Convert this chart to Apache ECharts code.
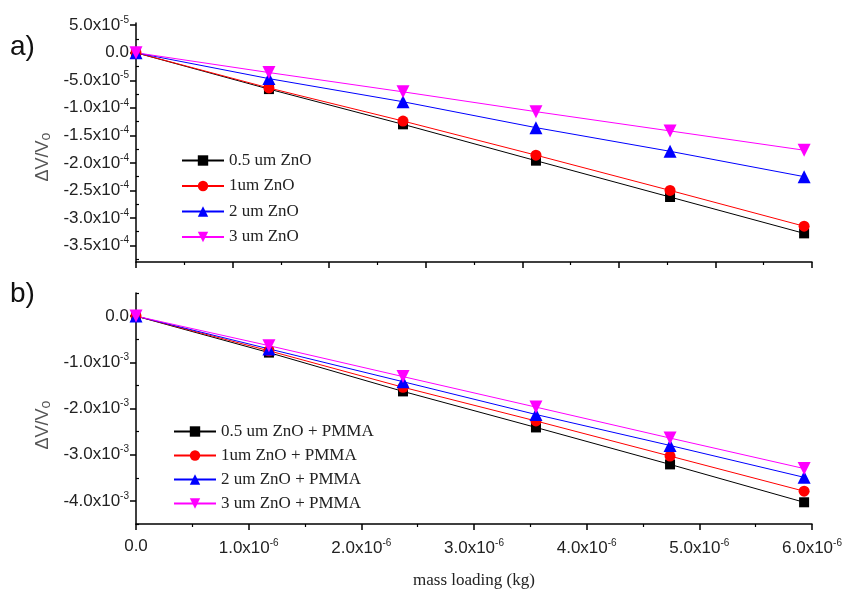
<!DOCTYPE html>
<html>
<head>
<meta charset="utf-8">
<script src="https://cdn.jsdelivr.net/npm/echarts@6/dist/echarts.min.js"></script>
<style>
html, body { margin: 0; padding: 0; background: #fff; }
#main { width: 845px; height: 590px; }
</style>
</head>
<body>
<div id="main"></div>
<script>
// 质量负载 (kg)
var massX = [0, 1.18e-6, 2.37e-6, 3.55e-6, 4.74e-6, 5.93e-6];

// a) 纯 ZnO
var namesA = ['0.5 um ZnO', '1um ZnO', '2 um ZnO', '3 um ZnO'];
var a05 = [0, -6.6e-5, -1.30e-4, -1.96e-4, -2.62e-4, -3.28e-4];
var a1 = [0, -6.4e-5, -1.24e-4, -1.86e-4, -2.50e-4, -3.15e-4];
var a2 = [0, -4.7e-5, -8.9e-5, -1.36e-4, -1.79e-4, -2.25e-4];
var a3 = [0, -3.6e-5, -7.1e-5, -1.07e-4, -1.42e-4, -1.77e-4];

// b) ZnO + PMMA
var namesB = ['0.5 um ZnO + PMMA', '1um ZnO + PMMA', '2 um ZnO + PMMA', '3 um ZnO + PMMA'];
var b05 = [0, -0.79e-3, -1.63e-3, -2.41e-3, -3.21e-3, -4.03e-3];
var b1 = [0, -0.75e-3, -1.54e-3, -2.27e-3, -3.03e-3, -3.79e-3];
var b2 = [0, -0.71e-3, -1.42e-3, -2.13e-3, -2.80e-3, -3.49e-3];
var b3 = [0, -0.64e-3, -1.31e-3, -1.97e-3, -2.64e-3, -3.30e-3];

// 刻度
var ticksA = [5e-5, 0, -5e-5, -1e-4, -1.5e-4, -2e-4, -2.5e-4, -3e-4, -3.5e-4];
var minorA = [2.5e-5, -2.5e-5, -7.5e-5, -1.25e-4, -1.75e-4, -2.25e-4, -2.75e-4, -3.25e-4, -3.75e-4];
var ticksB = [0, -1e-3, -2e-3, -3e-3, -4e-3];
var minorB = [5e-4, -5e-4, -1.5e-3, -2.5e-3, -3.5e-3, -4.5e-3];

var colors = ['#000000', '#ff0000', '#0000ff', '#ff00ff'];
var symbols = ['rect', 'circle', 'triangle', 'path://M0,0 L10,0 L5,9 Z'];
var sizes = [10, 11, 13, 13];

function sci(v) {
	if (Math.abs(v) < 1e-12) return '{m|0.0}';
	var e = Math.floor(Math.log10(Math.abs(v)) + 1e-9);
	var m = (v / Math.pow(10, e)).toFixed(1);
	return '{m|' + m + 'x10}{s|' + e + '}';
}
var richLbl = {
	m: { fontSize: 17, fontFamily: 'Liberation Sans, Arial', color: '#222' },
	s: { fontSize: 10, fontFamily: 'Liberation Sans, Arial', color: '#222', padding: [0, 0, 10, 0] }
};

function pair(x, y) {
	var d = [];
	for (var i = 0; i < x.length; i++) d.push([x[i], y[i]]);
	return d;
}

var series = [];
var allA = [a05, a1, a2, a3];
var allB = [b05, b1, b2, b3];
for (var i = 0; i < 4; i++) {
	series.push({
		name: namesA[i], type: 'line', xAxisIndex: 0, yAxisIndex: 0,
		data: pair(massX, allA[i]), symbol: symbols[i], symbolSize: sizes[i],
		color: colors[i], lineStyle: { width: 1, color: colors[i] }, clip: false
	});
}
for (var i = 0; i < 4; i++) {
	series.push({
		name: namesB[i], type: 'line', xAxisIndex: 2, yAxisIndex: 2,
		data: pair(massX, allB[i]), symbol: symbols[i], symbolSize: sizes[i],
		color: colors[i], lineStyle: { width: 1, color: colors[i] }, clip: false
	});
}

var axLine = { show: true, onZero: false, lineStyle: { color: '#000', width: 1.5 } };
var legText = { fontFamily: 'Liberation Serif, Times New Roman', fontSize: 17, color: '#222' };

var option = {
	animation: false,
	backgroundColor: '#fff',
	grid: [
		{ left: 136, right: 33, top: 23, height: 239 },
		{ left: 136, right: 33, top: 293, height: 234 }
	],
	xAxis: [
		{ type: 'value', gridIndex: 0, min: 0, max: 6e-6, interval: 6e-6 / 7,
		  axisLine: axLine, axisTick: { length: 6, lineStyle: { color: '#000', width: 1.5 } },
		  minorTick: { show: true, splitNumber: 2, length: 3, lineStyle: { color: '#000', width: 1.2 } },
		  axisLabel: { show: false }, splitLine: { show: false } },
		{ type: 'value', gridIndex: 0, min: 0, max: 6e-6, show: false },
		{ type: 'value', gridIndex: 1, min: 0, max: 6e-6, interval: 1e-6,
		  axisLine: axLine, axisTick: { length: 6, lineStyle: { color: '#000', width: 1.5 } },
		  minorTick: { show: true, splitNumber: 2, length: 3, lineStyle: { color: '#000', width: 1.2 } },
		  axisLabel: { margin: 14, formatter: sci, rich: richLbl },
		  splitLine: { show: false },
		  name: 'mass loading (kg)', nameLocation: 'middle', nameGap: 48,
		  nameTextStyle: { fontFamily: 'Liberation Serif, Times New Roman', fontSize: 17, color: '#222' } }
	],
	yAxis: [
		{ type: 'value', gridIndex: 0, min: -3.8e-4, max: 5.4e-5,
		  axisLine: axLine,
		  axisTick: { length: 6, customValues: ticksA, lineStyle: { color: '#000', width: 1.5 } },
		  axisLabel: { margin: 7, customValues: ticksA, formatter: sci, rich: richLbl },
		  splitLine: { show: false } },
		{ type: 'value', gridIndex: 0, min: -3.8e-4, max: 5.4e-5,
		  axisLine: { show: false },
		  axisTick: { length: 3, customValues: minorA, lineStyle: { color: '#000', width: 1.2 } },
		  axisLabel: { show: false }, splitLine: { show: false } },
		{ type: 'value', gridIndex: 1, min: -4.5e-3, max: 5e-4,
		  axisLine: axLine,
		  axisTick: { length: 6, customValues: ticksB, lineStyle: { color: '#000', width: 1.5 } },
		  axisLabel: { margin: 7, customValues: ticksB, formatter: sci, rich: richLbl },
		  splitLine: { show: false } },
		{ type: 'value', gridIndex: 1, min: -4.5e-3, max: 5e-4,
		  axisLine: { show: false },
		  axisTick: { length: 3, customValues: minorB, lineStyle: { color: '#000', width: 1.2 } },
		  axisLabel: { show: false }, splitLine: { show: false } }
	],
	legend: [
		{ data: namesA, orient: 'vertical', left: 176, top: 147, itemWidth: 42, itemHeight: 13, itemGap: 8.5,
		  textStyle: legText },
		{ data: namesB, orient: 'vertical', left: 168, top: 418, itemWidth: 42, itemHeight: 13, itemGap: 7,
		  textStyle: legText }
	],
	graphic: [
		{ type: 'text', left: 10, top: 33, style: { text: 'a)', fontSize: 28, fontFamily: 'Liberation Sans, Arial', fill: '#111' } },
		{ type: 'text', left: 10, top: 280, style: { text: 'b)', fontSize: 28, fontFamily: 'Liberation Sans, Arial', fill: '#111' } },
		{ type: 'text', x: 43, y: 157, rotation: Math.PI / 2,
		  style: { text: '{m|ΔV/V}{o|o}', align: 'center', verticalAlign: 'middle',
		    rich: { m: { fontSize: 18, fontFamily: 'Liberation Sans, Arial', fill: '#555' },
		            o: { fontSize: 14, fontFamily: 'Liberation Sans, Arial', fill: '#555', padding: [6, 0, 0, 0] } } } },
		{ type: 'text', x: 43, y: 425, rotation: Math.PI / 2,
		  style: { text: '{m|ΔV/V}{o|o}', align: 'center', verticalAlign: 'middle',
		    rich: { m: { fontSize: 18, fontFamily: 'Liberation Sans, Arial', fill: '#555' },
		            o: { fontSize: 14, fontFamily: 'Liberation Sans, Arial', fill: '#555', padding: [6, 0, 0, 0] } } } }
	],
	series: series
};

var myChart = echarts.init(document.getElementById('main'));
myChart.setOption(option);
</script>
</body>
</html>
